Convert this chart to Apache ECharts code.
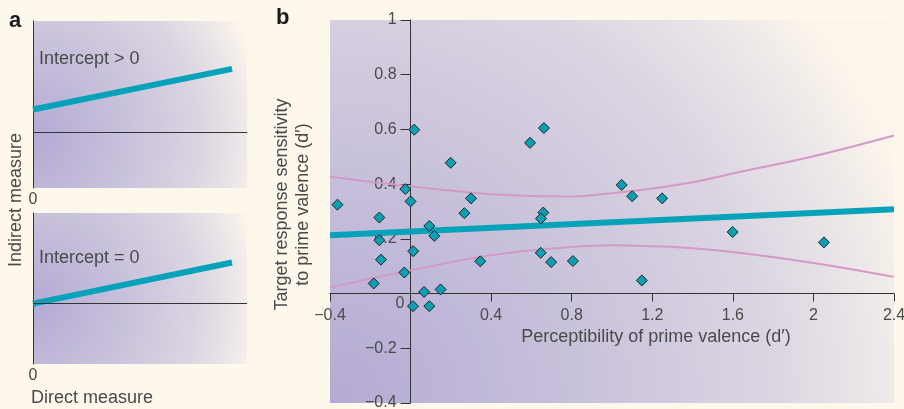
<!DOCTYPE html>
<html>
<head>
<meta charset="utf-8">
<script src="https://cdn.jsdelivr.net/npm/echarts@6/dist/echarts.min.js"></script>
<style>
html, body { margin: 0; padding: 0; background: #fef7ec; }
#chart { width: 904px; height: 409px; }
</style>
</head>
<body>
<div id="chart"></div>
<script>
// panel a: the two schematic regressions
var aDirect = [0, 0.93];
var aIndirectAbove = [0.41, 1.14];
var aIndirectZero = [0, 0.68];

// panel b: perceptibility vs sensitivity, one diamond per subject
var perceptibility = [-0.363, -0.155, -0.155, -0.147, -0.183, -0.031, -0.026, 0.0, 0.013, 0.012,
  0.018, 0.067, 0.093, 0.118, 0.093, 0.149, 0.199, 0.267, 0.300, 0.346,
  0.593, 0.662, 0.659, 0.647, 0.646, 0.698, 0.806, 1.048, 1.100, 1.249,
  1.148, 1.599, 2.052];
var sensitivity = [0.325, 0.278, 0.195, 0.124, 0.037, 0.077, 0.382, 0.337, 0.155, -0.046,
  0.599, 0.006, 0.247, 0.211, -0.046, 0.015, 0.478, 0.294, 0.348, 0.118,
  0.551, 0.605, 0.296, 0.274, 0.149, 0.115, 0.119, 0.397, 0.356, 0.348,
  0.048, 0.225, 0.187];

// regression line and its confidence band
var fitX = [-0.4, 2.4];
var fitY = [0.213, 0.308];
var bandX = [-0.4, 0, 0.4, 0.8, 1.0, 1.2, 1.4, 1.6, 2.0, 2.4];
var bandUpper = [0.427, 0.392, 0.363, 0.355, 0.367, 0.384, 0.407, 0.439, 0.502, 0.578];
var bandLower = [0.022, 0.085, 0.140, 0.170, 0.177, 0.173, 0.166, 0.152, 0.112, 0.061];

var xRange = [-0.4, 2.4];
var yRange = [-0.4, 1];

var teal = '#06a2b9';
var pink = '#d39ac7';
var axisColor = '#333';
var textColor = '#4a4a4a';
var font = 'Liberation Sans';

var gridB = { left: 330, top: 20, width: 564, height: 383 };
// axes cross at the origin, so shift them in from the grid edges
var yAxisShift = -(0 - xRange[0]) / (xRange[1] - xRange[0]) * gridB.width;
var xAxisShift = -(0 - yRange[0]) / (yRange[1] - yRange[0]) * gridB.height;

function zip(xs, ys) {
  return xs.map(function (x, i) { return [x, ys[i]]; });
}

function fmt(v) {
  if (Math.abs(v) < 1e-9) return '';
  var s = String(+v.toFixed(1));
  return s.replace('-', '\u2212');
}

function bg(cy, r) {
  return new echarts.graphic.RadialGradient(0, cy, r, [
    { offset: 0, color: '#b4aad4' },
    { offset: 0.4, color: '#c8c1db' },
    { offset: 0.72, color: '#dbd5e2' },
    { offset: 0.88, color: '#ebe6e8' },
    { offset: 1, color: '#fcf5eb' }
  ]);
}

var chart = echarts.init(document.getElementById('chart'));

// small schematic axes (panel a)
function schemeX(gi) {
  return {
    type: 'value', gridIndex: gi, min: 0, max: 1, interval: 1,
    axisLine: { show: false }, axisTick: { show: false }, splitLine: { show: false },
    axisLabel: {
      margin: 4, color: textColor, fontSize: 16, fontFamily: font,
      formatter: function (v) { return v === 0 ? '0' : ''; }
    }
  };
}
function schemeY(gi, min, max) {
  return {
    type: 'value', gridIndex: gi, min: min, max: max,
    axisLine: { show: true, onZero: false, lineStyle: { color: axisColor, width: 1 } },
    axisTick: { show: false }, axisLabel: { show: false }, splitLine: { show: false }
  };
}
function schemeLine(gi, ys) {
  return {
    type: 'line', xAxisIndex: gi, yAxisIndex: gi, data: zip(aDirect, ys),
    symbol: 'none', silent: true,
    lineStyle: { color: teal, width: 6 },
    markLine: {
      silent: true, symbol: 'none', label: { show: false },
      lineStyle: { color: axisColor, width: 1, type: 'solid' },
      data: [{ yAxis: 0 }]
    }
  };
}

chart.setOption({
  animation: false,
  textStyle: { fontFamily: font },
  grid: [
    { left: 33, top: 21, width: 214, height: 167, show: true, borderWidth: 0, outerBoundsMode: 'none', backgroundColor: bg(0.7, 1.4) },
    { left: 33, top: 213, width: 214, height: 151, show: true, borderWidth: 0, outerBoundsMode: 'none', backgroundColor: bg(0.6, 1.52) },
    { left: gridB.left, top: gridB.top, width: gridB.width, height: gridB.height, show: true, borderWidth: 0, outerBoundsMode: 'none', backgroundColor: bg(1, 1.6) }
  ],
  xAxis: [
    schemeX(0),
    schemeX(1),
    {
      type: 'value', gridIndex: 2, min: xRange[0], max: xRange[1], interval: 0.4,
      position: 'bottom', offset: xAxisShift, z: 3,
      name: 'Perceptibility of prime valence (d\u2032)',
      nameLocation: 'middle', nameGap: 34,
      nameTextStyle: { fontSize: 18, color: textColor, fontFamily: font, padding: [0, 0, 0, 88] },
      axisLine: { onZero: false, lineStyle: { color: axisColor, width: 1 } },
      axisTick: { length: 8, lineStyle: { color: axisColor } },
      axisLabel: { margin: 14, fontSize: 16, color: textColor, fontFamily: font, formatter: fmt },
      splitLine: { show: false }
    }
  ],
  yAxis: [
    schemeY(0, -1, 2),
    schemeY(1, -1, 1.5),
    {
      type: 'value', gridIndex: 2, min: yRange[0], max: yRange[1], interval: 0.2,
      position: 'left', offset: yAxisShift, z: 3,
      name: 'Target response sensitivity\nto prime valence (d\u2032)',
      nameLocation: 'middle', nameGap: 97, nameRotate: 90,
      nameTextStyle: { fontSize: 18, lineHeight: 21, color: textColor, fontFamily: font, align: 'center', padding: [0, 0, 0, 14] },
      axisLine: { onZero: false, lineStyle: { color: axisColor, width: 1 } },
      axisTick: { length: 10, lineStyle: { color: axisColor } },
      axisLabel: { margin: 14, fontSize: 16, color: textColor, fontFamily: font, formatter: fmt },
      splitLine: { show: false }
    }
  ],
  series: [
    schemeLine(0, aIndirectAbove),
    schemeLine(1, aIndirectZero),
    {
      type: 'line', xAxisIndex: 2, yAxisIndex: 2, data: zip(bandX, bandUpper),
      smooth: 0.4, symbol: 'none', silent: true, lineStyle: { color: pink, width: 2 }
    },
    {
      type: 'line', xAxisIndex: 2, yAxisIndex: 2, data: zip(bandX, bandLower),
      smooth: 0.4, symbol: 'none', silent: true, lineStyle: { color: pink, width: 2 }
    },
    {
      type: 'line', xAxisIndex: 2, yAxisIndex: 2, data: zip(fitX, fitY),
      symbol: 'none', silent: true, lineStyle: { color: teal, width: 6 }
    },
    {
      type: 'scatter', xAxisIndex: 2, yAxisIndex: 2, data: zip(perceptibility, sensitivity),
      symbol: 'diamond', symbolSize: 11, z: 5,
      itemStyle: { color: '#0a9fb5', borderColor: '#222', borderWidth: 1, opacity: 1 }
    }
  ],
  graphic: [
    { type: 'text', left: 9, top: 10, style: { text: 'a', font: 'bold 22px "Liberation Sans"', fill: '#1a1a1a' } },
    { type: 'text', left: 276, top: 7, style: { text: 'b', font: 'bold 22px "Liberation Sans"', fill: '#1a1a1a' } },
    { type: 'text', left: 39, top: 50, style: { text: 'Intercept > 0', font: '18px "Liberation Sans"', fill: textColor } },
    { type: 'text', left: 39, top: 249, style: { text: 'Intercept = 0', font: '18px "Liberation Sans"', fill: textColor } },
    { type: 'text', left: 31, top: 389, style: { text: 'Direct measure', font: '18px "Liberation Sans"', fill: textColor } },
    {
      type: 'text', x: 16, y: 200, rotation: Math.PI / 2,
      style: { text: 'Indirect measure', font: '18px "Liberation Sans"', fill: textColor, align: 'center', verticalAlign: 'middle' }
    },
    {
      type: 'text', x: 400, y: 304,
      style: { text: '0', font: '16px "Liberation Sans"', fill: textColor, align: 'center', verticalAlign: 'middle' }
    }
  ]
});
</script>
</body>
</html>
